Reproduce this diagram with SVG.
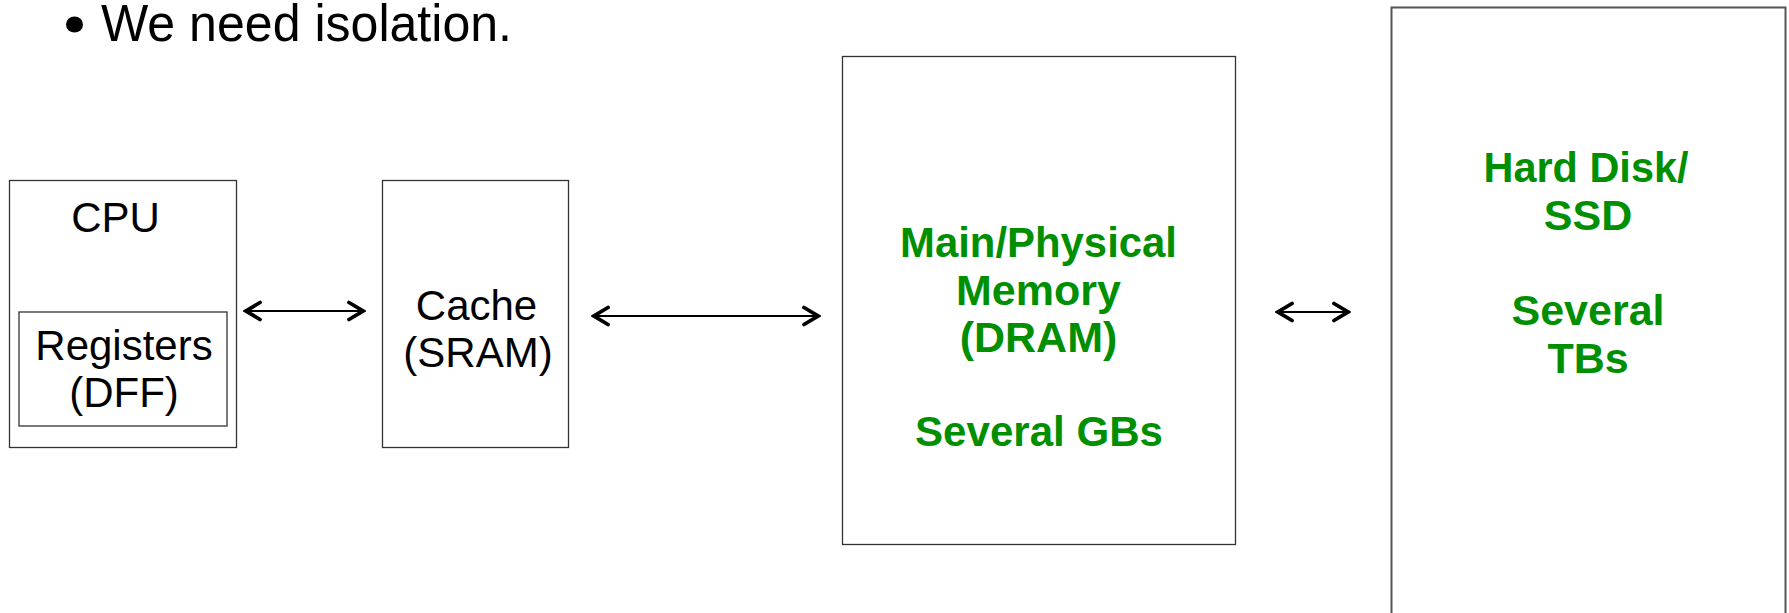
<svg xmlns="http://www.w3.org/2000/svg" width="1789" height="613" viewBox="0 0 1789 613">
  <style>
    .box { fill: #ffffff; stroke: #333333; stroke-width: 1.3; }
    .lbl { font-family: "Liberation Sans", Arial, Helvetica, sans-serif; fill: #000000; text-anchor: middle; font-size: 42px; }
    .grn { font-family: "Liberation Sans", Arial, Helvetica, sans-serif; font-weight: bold; fill: #008f00; text-anchor: middle; font-size: 43px; }
    .conn { stroke: #000000; stroke-width: 2.2; fill: none; marker-start: url(#chev); marker-end: url(#chev); }
  </style>
  <defs>
    <marker id="chev" viewBox="0 0 20 24" refX="17" refY="12" markerWidth="20" markerHeight="24" markerUnits="userSpaceOnUse" orient="auto-start-reverse">
      <path d="M3,3.5 L17,12 L3,20.5" fill="none" stroke="#000000" stroke-width="3.8" stroke-linecap="round" stroke-linejoin="miter"/>
    </marker>
  </defs>
  <rect width="1789" height="613" fill="#ffffff"/>

  <g id="title">
    <ellipse cx="74.5" cy="24.5" rx="8.5" ry="8"/>
    <text x="101" y="41" font-family="'Liberation Sans', Arial, Helvetica, sans-serif" font-size="52" textLength="411" lengthAdjust="spacingAndGlyphs">We need isolation.</text>
  </g>

  <g id="cpu">
    <rect class="box" x="9.5" y="180.5" width="227" height="267"/>
    <text class="lbl" x="115.5" y="232">CPU</text>
  </g>
  <g id="registers">
    <rect class="box" x="19" y="312" width="208" height="114"/>
    <text class="lbl" x="124" y="360">Registers</text>
    <text class="lbl" x="124" y="407">(DFF)</text>
  </g>

  <g id="cache">
    <rect class="box" x="382.5" y="180.5" width="186" height="267"/>
    <text class="lbl" x="476.5" y="320">Cache</text>
    <text class="lbl" x="478" y="367">(SRAM)</text>
  </g>

  <g id="memory">
    <rect class="box" x="842.5" y="56.5" width="393" height="488"/>
    <text class="grn" x="1038.5" y="257" textLength="277" lengthAdjust="spacingAndGlyphs">Main/Physical</text>
    <text class="grn" x="1038.5" y="304.5">Memory</text>
    <text class="grn" x="1038.5" y="352">(DRAM)</text>
    <text class="grn" x="1039" y="446" textLength="248" lengthAdjust="spacingAndGlyphs">Several GBs</text>
  </g>

  <g id="disk">
    <rect x="1391.5" y="7.5" width="394" height="620" fill="#ffffff" stroke="#555555" stroke-width="2"/>
    <text class="grn" x="1586" y="182" textLength="205" lengthAdjust="spacingAndGlyphs">Hard Disk/</text>
    <text class="grn" x="1588" y="229.5">SSD</text>
    <text class="grn" x="1588" y="325">Several</text>
    <text class="grn" x="1588" y="373">TBs</text>
  </g>

  <g id="connectors">
    <line class="conn" x1="246" y1="311" x2="363" y2="311"/>
    <line class="conn" x1="594" y1="316" x2="818" y2="316"/>
    <line class="conn" x1="1278" y1="312" x2="1348" y2="312"/>
  </g>
</svg>
